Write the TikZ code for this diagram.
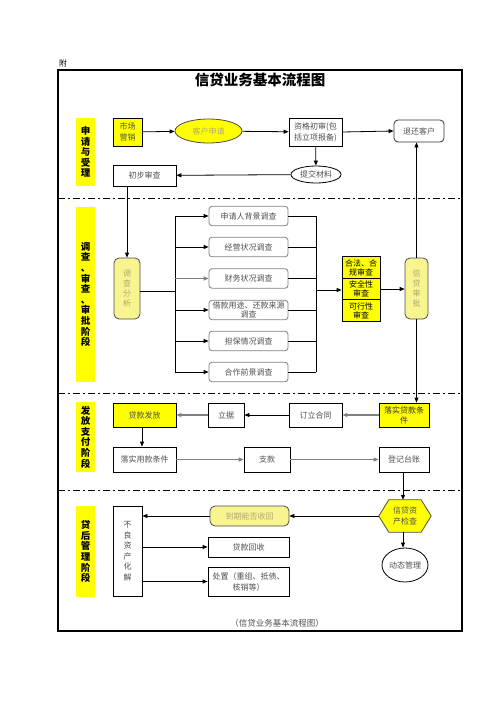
\documentclass[tikz,border=0pt]{standalone}
\usepackage{fontspec}
\setmainfont{Noto Sans CJK SC}
\usetikzlibrary{arrows.meta,shapes.geometric,backgrounds}
\definecolor{ylw}{HTML}{FFFF00}
\definecolor{pale}{HTML}{F8F490}
\definecolor{paletxt}{HTML}{B0A870}
\definecolor{txt}{HTML}{505050}
\definecolor{bord}{HTML}{808080}
\begin{document}
\begin{tikzpicture}[x=1pt,y=-1pt,
  base/.style={inner sep=0pt, align=center, font=\fontsize{8}{11}\selectfont, text=txt},
  sqbox/.style={base, draw, line width=0.8pt, fill=white},
  ybox/.style={base, draw, line width=0.8pt, fill=ylw},
  rbox/.style={base, draw=bord, line width=0.8pt, rounded corners=3pt, fill=white},
  pbox/.style={base, draw=black!70, line width=0.8pt, rounded corners=5pt, fill=pale, text=paletxt},
  lab/.style={inner sep=0pt, fill=ylw, align=center, minimum width=19pt, font=\fontsize{9.5}{10.6}\bfseries\selectfont},
  arr/.style={-{Triangle[length=5pt,width=4pt]}, line width=0.8pt},
  garr/.style={-{Triangle[length=5pt,width=4pt]}, line width=1.8pt, draw=bord},
  ln/.style={line width=0.8pt},
  sep/.style={line width=0.9pt, dash pattern=on 7pt off 3pt on 2pt off 3pt}
]
\useasboundingbox (0,0) rectangle (496,702);

\node[base, text=black] (fu) at (63,63) {附};
\draw[line width=2pt] (58,70) rectangle (462,631);
\node[inner sep=0pt, font=\fontsize{14.5}{16}\bfseries\selectfont] (title) at (260,80) {信贷业务基本流程图};

% separators
\coordinate (s1l) at (58,198); \coordinate (s1r) at (462,198);
\coordinate (s2l) at (58,393); \coordinate (s2r) at (462,393);
\coordinate (s3l) at (58,490); \coordinate (s3r) at (462,490);
\draw[sep] (s1l) -- (s1r);
\draw[sep] (s2l) -- (s2r);
\draw[sep] (s3l) -- (s3r);

% section labels
\node[lab, minimum height=68pt] (lab1) at (85.5,152) {申\\请\\与\\受\\理};
\node[lab, minimum height=175pt] (lab2) at (85.5,294.5) {调\\查\\、\\审\\查\\、\\审\\批\\阶\\段};
\node[lab, minimum height=70pt] (lab3) at (85.5,437) {发\\放\\支\\付\\阶\\段};
\node[lab, minimum height=91pt] (lab4) at (85.5,551.5) {贷\\后\\管\\理\\阶\\段};

% stage 1
\node[ybox, minimum width=29pt, minimum height=28pt] (mkt) at (127.5,132) {市场\\营销};
\node[base, ellipse, draw=black!70, line width=0.8pt, fill=ylw, text=paletxt, minimum width=67pt, minimum height=24pt] (apply) at (208.5,131) {客户申请};
\node[sqbox, minimum width=53pt, minimum height=28pt] (qual) at (315.5,132) {资格初审(包\\括立项报备)};
\node[rbox, draw=black!80, rounded corners=4pt, minimum width=50pt, minimum height=22pt] (refund) at (419,131) {退还客户};
\node[base, ellipse, draw, line width=0.8pt, minimum width=50pt, minimum height=17pt] (submit) at (316,174.5) {提交材料};
\node[sqbox, minimum width=63pt, minimum height=21pt] (prelim) at (144.5,175.5) {初步审查};

\draw[arr] (mkt) -- (apply);
\draw[arr] (apply) -- (qual);
\draw[arr] (qual.east) -- (refund.west);
\draw[arr] (qual) -- (submit);
\draw[arr] (submit) -- (prelim);

% stage 2
\node[pbox, minimum width=26pt, minimum height=61pt, font=\fontsize{8}{10}\selectfont] (analysis) at (127,288.5) {调\\查\\分\\析};
\draw[arr] (prelim.south -| analysis.north) -- (analysis.north);

\coordinate (busl) at (175,291);
\coordinate (busr) at (316,290);
\foreach \n/\y/\t in {b1/216/申请人背景调查, b2/247/经营状况调查, b3/278.5/财务状况调查, b5/341/担保情况调查, b6/372/合作前景调查}{
  \node[rbox, minimum width=79pt, minimum height=19.5pt] (\n) at (248.5,\y) {\t};
}
\node[rbox, minimum width=79pt, minimum height=19.5pt, font=\fontsize{8}{9}\selectfont] (b4) at (248.5,310) {借款用途、还款来源\\调查};

\draw[ln] (analysis.east |- busl) -- (busl);
\draw[ln] (busl |- b1.west) -- (busl |- b6.west);
\draw[ln] (busr |- b1.east) -- (busr |- b6.east);
\foreach \n in {b1,b2,b4,b5,b6}{
  \draw[arr] (busl |- \n.west) -- (\n.west);
  \draw[ln] (\n.east) -- (busr |- \n.east);
}
\draw[arr, draw=bord, line width=1.4pt] (busl |- b3.west) -- (b3.west);
\draw[ln] (b3.east) -- (busr |- b3.east);

\node[ybox, text=black, minimum width=38pt, minimum height=21.3pt, font=\fontsize{8}{9}\selectfont] (c1) at (361,267.5) {合法、合\\规审查};
\node[ybox, text=black, minimum width=38pt, minimum height=21.3pt, font=\fontsize{8}{9}\selectfont] (c2) at (361,289) {安全性\\审查};
\node[ybox, text=black, minimum width=38pt, minimum height=21.3pt, font=\fontsize{8}{9}\selectfont] (c3) at (361,310.5) {可行性\\审查};
\draw[arr] (busr) -- (busr -| c2.west);

\node[pbox, minimum width=23pt, minimum height=61pt, font=\fontsize{8}{10}\selectfont] (approve) at (416.5,288.5) {信\\贷\\审\\批};
\draw[arr] (c2.east) -- (approve.west |- c2.east);
\draw[arr] (approve.north) -- (approve.north |- refund.south);

% stage 3
\node[ybox, minimum width=63pt, minimum height=24pt] (release) at (144.5,415) {贷款发放};
\node[sqbox, minimum width=36pt, minimum height=24pt] (note) at (226,415) {立据};
\node[sqbox, minimum width=53pt, minimum height=24pt] (contract) at (315.5,415) {订立合同};
\node[ybox, text=black!80, minimum width=50pt, minimum height=24pt, font=\fontsize{8}{10}\selectfont] (cond) at (404,415) {落实贷款条\\件};
\node[sqbox, minimum width=63pt, minimum height=25pt] (usecond) at (144.5,459.5) {落实用款条件};
\node[sqbox, minimum width=46pt, minimum height=25pt] (pay) at (267,459.5) {支款};
\node[sqbox, minimum width=50pt, minimum height=25pt] (ledger) at (404,459.5) {登记台账};

\draw[arr] (approve.south) -- (approve.south |- cond.north);
\draw[garr] (cond) -- (contract);
\draw[arr] (contract) -- (note);
\draw[garr] (note) -- (release);
\draw[arr] (release.south -| 142,0) -- (usecond.north -| 142,0);
\draw[garr, line width=1.2pt] (usecond) -- (pay);
\draw[garr, line width=1.2pt] (pay) -- (ledger);

% stage 4
\node[sqbox, minimum width=29pt, minimum height=90pt, font=\fontsize{8}{10.5}\selectfont] (npa) at (127.5,551) {不\\良\\资\\产\\化\\解};
\node[pbox, minimum width=79pt, minimum height=20pt] (due) at (249.5,516) {到期能否收回};
\node[base, minimum width=52pt, minimum height=32pt, font=\fontsize{8}{11}\selectfont] (check) at (405,516) {信贷资\\产检查};
\begin{scope}[on background layer]
\draw[line width=0.8pt, draw=black!70, fill=ylw] (check.west) -- ([xshift=10pt]check.north west) -- ([xshift=-10pt]check.north east) -- (check.east) -- ([xshift=-10pt]check.south east) -- ([xshift=10pt]check.south west) -- cycle;
\end{scope}
\node[sqbox, minimum width=81pt, minimum height=20pt] (collect) at (248.5,547) {贷款回收};
\node[sqbox, minimum width=81pt, minimum height=29pt] (dispose) at (248.5,581.5) {处置（重组、抵债、\\核销等）};
\node[base, ellipse, draw, line width=0.8pt, minimum width=46pt, minimum height=34pt] (dyn) at (405,565) {动态管理};

\draw[arr] (ledger.south -| 403,0) -- (check.north -| 403,0);
\draw[arr] (check.west) -- (due.east);
\draw[arr] (due.west) -- (npa.east |- due.west);
\draw[arr] (npa.east |- collect.west) -- (collect.west);
\draw[arr] (npa.east |- dispose.west) -- (dispose.west);
\draw[arr] (check.south -| 403,0) -- (dyn.north -| 403,0);

\node[base, font=\fontsize{8.5}{10}\selectfont] (caption) at (277,623) {（信贷业务基本流程图）};
\end{tikzpicture}
\end{document}
